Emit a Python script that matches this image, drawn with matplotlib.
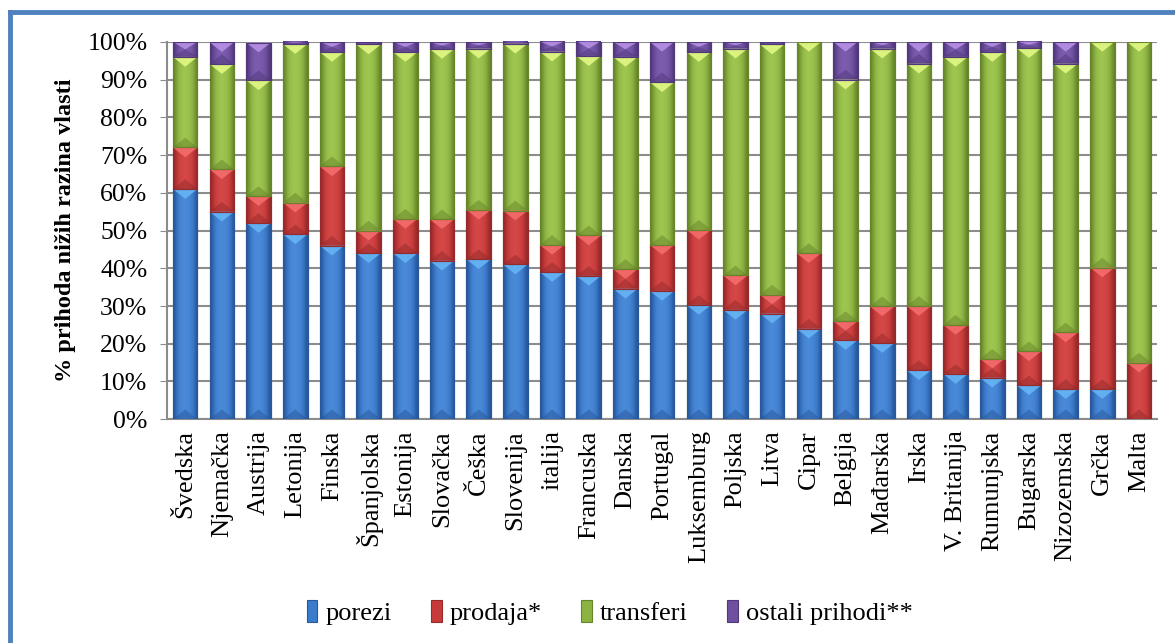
import numpy as np
import matplotlib
matplotlib.use('Agg')
import matplotlib.pyplot as plt
from matplotlib.colors import LinearSegmentedColormap
from matplotlib.patches import Polygon, Rectangle

# --- data (% of lower-level government revenue) ---
countries = ['Švedska', 'Njemačka', 'Austrija', 'Letonija', 'Finska', 'Španjolska',
             'Estonija', 'Slovačka', 'Češka', 'Slovenija', 'italija', 'Francuska',
             'Danska', 'Portugal', 'Luksemburg', 'Poljska', 'Litva', 'Cipar',
             'Belgija', 'Mađarska', 'Irska', 'V. Britanija', 'Rumunjska',
             'Bugarska', 'Nizozemska', 'Grčka', 'Malta']
porezi = [61, 55, 52, 49, 46, 44, 44, 42, 42.4, 41, 39, 38, 34.6, 34, 30.3, 29,
          28, 24, 21, 20.2, 13, 12, 11, 9, 8, 8, 0]
prodaja = [11, 11.2, 7.1, 8.4, 21, 6, 9.1, 11, 13.1, 14.3, 7.2, 10.7, 5.2, 12.2,
           19.9, 9.1, 5, 20, 5, 9.7, 17, 13, 5, 9, 15, 32.2, 15]
transferi = [24, 27.9, 30.7, 42, 30.3, 49.3, 44.2, 45.1, 42.7, 44.2, 51.2, 47.5,
             56.2, 43.1, 47.1, 60.1, 66.3, 56, 64, 68.3, 64.2, 71, 81.3, 80.3,
             71.2, 59.8, 85]
ostali = [4, 5.8, 10, 0.7, 2.7, 0.7, 2.7, 1.8, 1.8, 0.7, 2.7, 4, 4, 10.7, 2.7,
          1.8, 0.7, 0, 10, 1.8, 5.8, 4, 2.7, 1.8, 5.8, 0, 0]
series_names = ['porezi', 'prodaja*', 'transferi', 'ostali prihodi**']

# (dark edge, mid, light, bevel highlight)
palette = [('#28579a', '#3b7bcc', '#4a8ad8', '#66b4f4'),
           ('#952a2a', '#c83a3a', '#d44848', '#f46c6c'),
           ('#66852a', '#8cb242', '#9ec650', '#e2f884'),
           ('#51387c', '#6f50a0', '#7c5cae', '#b690e4')]

plt.rcParams['font.family'] = ['Liberation Serif', 'DejaVu Serif']

fig = plt.figure(figsize=(11.75, 6.43), dpi=100)
ax = fig.add_axes([0.142, 0.348, 0.843, 0.587])

x = np.arange(len(countries))
width = 0.67
profile = np.array([[0.0, 0.35, 0.7, 0.9, 1.0, 0.95, 0.85, 0.65, 0.35, 0.0]])

bottom = np.zeros(len(countries))
handles = []
for vals, name, cols in zip([porezi, prodaja, transferi, ostali], series_names, palette):
    vals = np.array(vals, dtype=float)
    cmap = LinearSegmentedColormap.from_list(name, [cols[0], cols[1], cols[2]])
    bars = ax.bar(x, vals, width, bottom=bottom, color=cols[1],
                  edgecolor=cols[0], linewidth=0.8, zorder=3, label=name)
    handles.append(Rectangle((0, 0), 1, 1, facecolor=cols[1], edgecolor=cols[0], linewidth=0.8))
    for rect, v, b in zip(bars, vals, bottom):
        if v <= 0:
            continue
        x0 = rect.get_x()
        x1 = x0 + rect.get_width()
        im = ax.imshow(profile, extent=[x0, x1, b, b + v], aspect='auto',
                       cmap=cmap, vmin=0, vmax=1, zorder=3.1, interpolation='bicubic')
        im.set_clip_path(rect)
        # bevel: light triangle at the top, dark one at the bottom
        th = min(2.6, v * 0.5)
        ax.add_patch(Polygon([[x0, b + v], [x1, b + v], [(x0 + x1) / 2, b + v - th]],
                             closed=True, facecolor=cols[3], edgecolor='none',
                             alpha=0.9, zorder=3.2))
        ax.add_patch(Polygon([[x0, b], [x1, b], [(x0 + x1) / 2, b + th]],
                             closed=True, facecolor=cols[0], edgecolor='none',
                             alpha=0.5, zorder=3.2))
        ax.add_patch(Rectangle((x0, b), x1 - x0, v, facecolor='none',
                               edgecolor=cols[0], linewidth=0.8, zorder=3.3))
    bottom = bottom + vals

ax.set_xlim(-0.5, len(countries) - 0.5)
ax.set_ylim(0, 100)
ax.set_yticks(np.arange(0, 101, 10))
ax.set_yticklabels([f'{v}%' for v in range(0, 101, 10)], fontsize=18.5)
ax.set_xticks(x)
ax.set_xticklabels(countries, rotation=90, fontsize=19)
ax.tick_params(axis='x', length=0, pad=8)
ax.tick_params(axis='y', length=5, color='#8c8c8c', pad=9)
ax.yaxis.grid(True, color='#8c8c8c', linewidth=1.5, zorder=0)
ax.set_axisbelow(True)
for s in ['top', 'right']:
    ax.spines[s].set_visible(False)
for s in ['left', 'bottom']:
    ax.spines[s].set_color('#8c8c8c')
    ax.spines[s].set_linewidth(1.5)

ax.set_ylabel('% prihoda nižih razina vlasti', fontsize=17.5, fontweight='bold', labelpad=8)

fig.legend(handles, series_names, loc='center', bbox_to_anchor=(0.519, 0.048), ncol=4,
           frameon=False, fontsize=19, handlelength=0.4, handleheight=0.9,
           handletextpad=0.3, columnspacing=1.5)

# blue frame around the chart (top and left edges visible in the reference)
fig.add_artist(plt.Line2D([0.0085, 1.0], [0.981, 0.981], color='#4f81bd', linewidth=3.5,
                          transform=fig.transFigure))
fig.add_artist(plt.Line2D([0.0085, 0.0085], [0.0, 0.981], color='#4f81bd', linewidth=3.5,
                          transform=fig.transFigure))

fig.savefig('out.png', dpi=100)
